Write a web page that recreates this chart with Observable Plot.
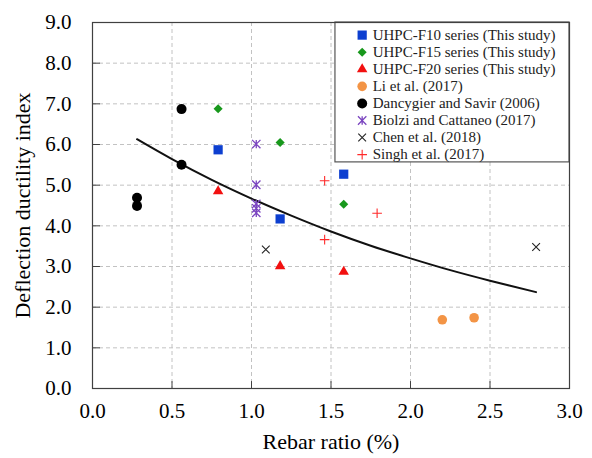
<!DOCTYPE html>
<html>
<head>
<meta charset="utf-8">
<script src="https://cdn.jsdelivr.net/npm/d3@7"></script>
<script src="https://cdn.jsdelivr.net/npm/@observablehq/plot@0.6"></script>
<style>
  html, body { margin: 0; padding: 0; background: #fff; }
  #chart svg { display: block; }
  #chart svg, #chart svg text { font-family: "Liberation Serif", "Times New Roman", serif !important; }
</style>
</head>
<body>
<div id="chart"></div>
<script>
// Series shown in the legend, in legend order
const seriesNames = [
  "UHPC-F10 series (This study)",
  "UHPC-F15 series (This study)",
  "UHPC-F20 series (This study)",
  "Li et al. (2017)",
  "Dancygier and Savir (2006)",
  "Biolzi and Cattaneo (2017)",
  "Chen et al. (2018)",
  "Singh et al. (2017)"
];

// Rebar ratio (%) and deflection ductility index, per series
const f10Ratio = [0.79, 1.18, 1.58];
const f10Index = [5.87, 4.17, 5.27];
const f15Ratio = [0.79, 1.18, 1.58];
const f15Index = [6.88, 6.05, 4.53];
const f20Ratio = [0.79, 1.18, 1.58];
const f20Index = [4.85, 3.01, 2.87];
const liRatio = [2.20, 2.40];
const liIndex = [1.69, 1.74];
const dancygierRatio = [0.28, 0.28, 0.56, 0.56];
const dancygierIndex = [4.69, 4.49, 6.87, 5.50];
const biolziRatio = [1.03, 1.03, 1.03, 1.03, 1.03];
const biolziIndex = [6.01, 5.01, 4.54, 4.43, 4.32];
const chenRatio = [1.09, 2.79];
const chenIndex = [3.42, 3.48];
const singhRatio = [1.46, 1.46, 1.79];
const singhIndex = [5.11, 3.66, 4.31];

// Trend curve through all the data
const trendRatio = [0.28, 0.5, 0.75, 1.0, 1.25, 1.5, 1.75, 2.0, 2.25, 2.5, 2.79];
const trendIndex = [6.13, 5.64, 5.13, 4.67, 4.25, 3.86, 3.51, 3.20, 2.91, 2.65, 2.37];

// Axis ticks
const xTicks = [0, 0.5, 1.0, 1.5, 2.0, 2.5, 3.0];
const yTicks = [0, 1, 2, 3, 4, 5, 6, 7, 8, 9];

const seriesRatios = [f10Ratio, f15Ratio, f20Ratio, liRatio, dancygierRatio, biolziRatio, chenRatio, singhRatio];
const seriesIndices = [f10Index, f15Index, f20Index, liIndex, dancygierIndex, biolziIndex, chenIndex, singhIndex];

// Spreadsheet-style "star" marker: an X with a vertical bar
const starMarker = {
  draw(ctx, size) {
    const r = Math.sqrt(size) * 0.55;
    ctx.moveTo(-r, -r); ctx.lineTo(r, r);
    ctx.moveTo(r, -r); ctx.lineTo(-r, r);
    ctx.moveTo(0, -r); ctx.lineTo(0, r);
  }
};

// Marker style for each series
const markerStyles = [
  {symbol: "square",   fill: "#0d3fd0", stroke: "none", r: 5.2},
  {symbol: "diamond2", fill: "#18981c", stroke: "none", r: 4.1},
  {symbol: "triangle", fill: "#f21010", stroke: "none", r: 3.9},
  {symbol: "circle",   fill: "#f39445", stroke: "none", r: 4.8},
  {symbol: "circle",   fill: "#000000", stroke: "none", r: 5.0},
  {symbol: starMarker, fill: "none", stroke: "#7b45c0", r: 4.3, strokeWidth: 1.3},
  {symbol: "times",    fill: "none", stroke: "#222222", r: 3.6, strokeWidth: 1.1},
  {symbol: "plus",     fill: "none", stroke: "#ff2a2a", r: 3.2, strokeWidth: 1.1}
];

const seriesPoints = seriesNames.map((name, s) =>
  seriesRatios[s].map((x, i) => ({series: name, x, y: seriesIndices[s][i]}))
);
const trend = trendRatio.map((x, i) => ({x, y: trendIndex[i]}));

const gridX = xTicks.slice(1, -1);
const gridY = yTicks.slice(1, -1);

// Legend box placement (in data units, top-right corner of the frame)
const legendX1 = 1.528, legendY1 = 5.56;
const legendSymbolX = 1.696, legendTextX = 1.762;
const legendTop = 8.69, legendStep = 0.42;
const legendRows = seriesNames.map((name, i) => ({name, i, y: legendTop - i * legendStep}));

const chart = Plot.plot({
  width: 592,
  height: 458,
  marginLeft: 92,
  marginRight: 23,
  marginTop: 22,
  marginBottom: 70,
  style: {background: "#fff", color: "#000"},
  x: {domain: [0, 3], label: null},
  y: {domain: [0, 9], label: null},
  marks: [
    Plot.gridX(gridX, {stroke: "#c2c2c2", strokeOpacity: 1, strokeDasharray: "4,3"}),
    Plot.gridY(gridY, {stroke: "#c2c2c2", strokeOpacity: 1, strokeDasharray: "4,3"}),
    // inward tick marks
    Plot.ruleX(gridX, {y1: 0, y2: 0.17, stroke: "#404040"}),
    Plot.ruleY(gridY, {x1: 0, x2: 0.05, stroke: "#404040"}),
    Plot.axisX(xTicks, {tickSize: 0, tickPadding: 15, tickFormat: d3.format(".1f"), fontSize: 21, label: null}),
    Plot.axisY(yTicks, {tickSize: 0, tickPadding: 21, tickFormat: d3.format(".1f"), fontSize: 21, label: null}),
    Plot.line(trend, {x: "x", y: "y", curve: "catmull-rom", stroke: "#111", strokeWidth: 2}),
    ...seriesPoints.map((pts, s) => Plot.dot(pts, {x: "x", y: "y", ...markerStyles[s]})),
    // legend
    Plot.rect([0], {x1: legendX1, x2: 3, y1: legendY1, y2: 9, fill: "#fff", stroke: "#555", strokeWidth: 1.2}),
    ...legendRows.map(row => Plot.dot([row], {x: legendSymbolX, y: "y", ...markerStyles[row.i]})),
    Plot.text(legendRows, {x: legendTextX, y: "y", text: "name", textAnchor: "start", fontSize: 15, fill: "#222"}),
    Plot.frame({stroke: "#404040", strokeWidth: 1.2}),
    // axis titles
    Plot.text(["Rebar ratio (%)"], {text: d => d, frameAnchor: "bottom", lineAnchor: "middle", dy: 53, fontSize: 22}),
    Plot.text(["Deflection ductility index"], {text: d => d, frameAnchor: "left", textAnchor: "middle", lineAnchor: "middle", dx: -70, rotate: -90, fontSize: 22})
  ]
});

document.getElementById("chart").appendChild(chart);
</script>
</body>
</html>
